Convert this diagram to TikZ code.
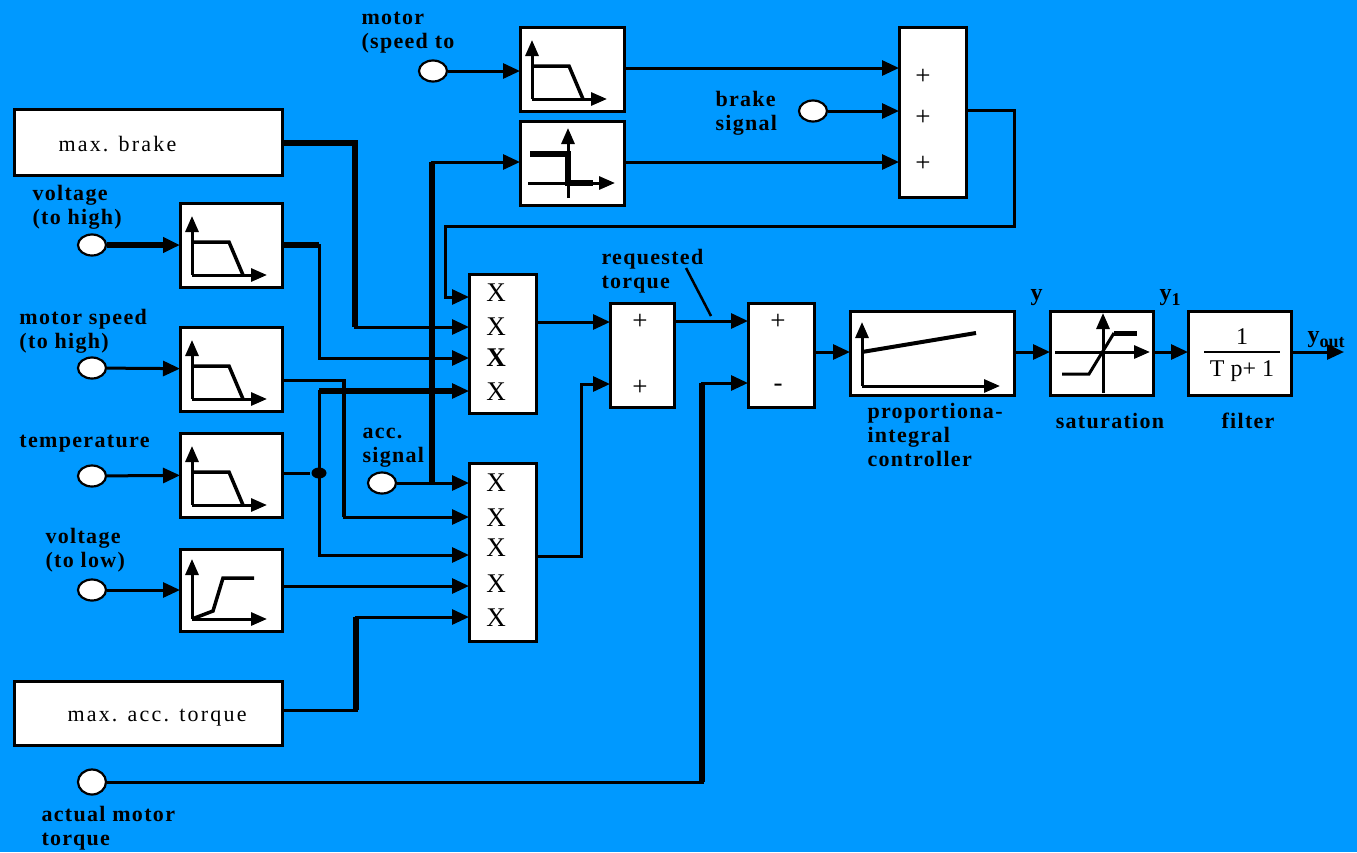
\documentclass[tikz,border=0pt]{standalone}
\usepackage{fontspec}
\setmainfont{Liberation Serif}
\newfontfamily\lblfont[LetterSpace=6]{Liberation Serif}
\newfontfamily\boxfont[LetterSpace=10]{Liberation Serif}
\usetikzlibrary{arrows.meta,shapes.geometric}
\definecolor{bgblue}{RGB}{0,153,255}

% small graphs drawn inside the blocks (coordinates from the block's top left corner)
\newcommand\lowpassicon[1]{%
  \begin{scope}[shift={(#1.north west)}]
    \draw[axes] (12,72) -- (12,13);
    \draw[axes] (12,72) -- (87,72);
    \draw[curve] (12,39) -- (49,39) -- (63,72);
  \end{scope}}
\newcommand\highpassicon[1]{%
  \begin{scope}[shift={(#1.north west)}]
    \draw[axes] (12,70) -- (12,10);
    \draw[axes] (12,70) -- (87,70);
    \draw[curve] (12,70) -- (33,62) -- (43,29) -- (74,29);
  \end{scope}}

\begin{document}
\begin{tikzpicture}[x=1pt, y=-1pt,
    line width=3pt,
    >={Triangle[length=17pt,width=15pt]},
    block/.style={draw, fill=white, line width=3pt, inner sep=0pt, outer sep=0pt},
    port/.style={ellipse, draw, fill=white, line width=2.2pt, minimum width=28pt, minimum height=21pt, inner sep=0pt},
    dot/.style={ellipse, fill=black, minimum width=15pt, minimum height=11pt, inner sep=0pt},
    lbl/.style={anchor=base west, align=left, inner sep=0pt, font=\lblfont\bfseries\fontsize{22}{24}\selectfont},
    boxtext/.style={anchor=base west, inner sep=0pt, font=\boxfont\fontsize{22}{24}\selectfont},
    sign/.style={inner sep=0pt, font=\fontsize{27}{27}\selectfont},
    wire/.style={->, line width=3pt},
    heavy/.style={line width=5.5pt},
    axes/.style={-{Triangle[length=16pt,width=13pt]}, line width=3pt},
    curve/.style={line width=3.5pt}
  ]
  \fill[bgblue] (0,0) rectangle (1357,852);
  \useasboundingbox (0,0) rectangle (1357,852);

  % blocks
  \node[block, minimum width=104pt, minimum height=84pt] (A) at (572,69) {};
  \node[block, minimum width=104pt, minimum height=84pt] (B) at (572,163) {};
  \node[block, minimum width=67pt, minimum height=170pt] (sum3) at (932.5,112) {};
  \node[block, minimum width=268pt, minimum height=66pt] (maxbrake) at (148,142) {};
  \node[block, minimum width=102pt, minimum height=84pt] (V1) at (231,245) {};
  \node[block, minimum width=102pt, minimum height=84pt] (MS) at (231,369) {};
  \node[block, minimum width=102pt, minimum height=84pt] (T) at (231,475) {};
  \node[block, minimum width=102pt, minimum height=82pt] (VL) at (231,590) {};
  \node[block, minimum width=268pt, minimum height=64pt] (maxacc) at (148,713) {};
  \node[block, minimum width=67pt, minimum height=139pt] (M1) at (502.5,343.5) {};
  \node[block, minimum width=67pt, minimum height=178pt] (M2) at (502.5,552) {};
  \node[block, minimum width=64pt, minimum height=104pt] (sum2) at (642,355) {};
  \node[block, minimum width=66pt, minimum height=104pt] (sum1) at (781,355) {};
  \node[block, minimum width=164pt, minimum height=84pt] (PI) at (932,353) {};
  \node[block, minimum width=103pt, minimum height=84pt] (sat) at (1101.5,353) {};
  \node[block, minimum width=103pt, minimum height=84pt] (filt) at (1239.5,353) {};

  % inputs
  \node[port] (motorin) at (433,71) {};
  \node[port] (brakein) at (813,111) {};
  \node[port] (vhigh) at (92,245) {};
  \node[port] (mspeed) at (92,368) {};
  \node[port] (tempin) at (92,476) {};
  \node[port] (vlow) at (92,590) {};
  \node[port] (accin) at (382,483) {};
  \node[port, minimum height=25pt] (torqin) at (92,782) {};
  \node[dot] (tj) at (319,473) {};
  \coordinate (accj) at (432,483);
  \coordinate (yout) at (1344,352);

  % signs in the blocks
  \foreach \yy/\t [count=\i] in {293/X,327/X,358/\textbf{X},392/X}
    \node[sign] (m1x\i) at (496,\yy) {\t};
  \foreach \yy [count=\i] in {483,518,548,584,618}
    \node[sign] (m2x\i) at (496,\yy) {X};
  \foreach \yy [count=\i] in {77,118,164}
    \node[sign] (s3p\i) at (923,\yy) {+};
  \node[sign] (s2p1) at (640,322) {+};
  \node[sign] (s2p2) at (640,388) {+};
  \node[sign] (s1p) at (778,322) {+};
  \node[sign] (s1m) at (778,388) {-};
  \node[inner sep=0pt, font=\fontsize{24}{24}\selectfont] (filtnum) at (1242,337) {1};
  \node[inner sep=0pt, font=\fontsize{24}{24}\selectfont] (filtden) at (1242,371) {T p+ 1};
  \draw[line width=2pt] (1204,352) -- (1280,352);

  % graphs
  \lowpassicon{A}
  \lowpassicon{V1}
  \lowpassicon{MS}
  \lowpassicon{T}
  \highpassicon{VL}
  \begin{scope}[shift={(B.north west)}]
    \draw[axes] (48,77) -- (48,7);
    \draw[axes] (8,62) -- (95,62);
    \draw[line width=6pt] (10,33) -- (48,33) -- (48,62) -- (73,62);
  \end{scope}
  \begin{scope}[shift={(PI.north west)}]
    \draw[axes] (12,75) -- (12,11);
    \draw[axes] (12,75) -- (150,75);
    \draw[line width=4pt] (12,41) -- (126,22);
  \end{scope}
  \begin{scope}[shift={(sat.north west)}]
    \draw[axes] (5,41) -- (100,41);
    \draw[axes] (53,82) -- (53,2);
    \draw (12,63) -- (39,63) -- (64,22);
    \draw[line width=5pt] (64,22) -- (87,22);
  \end{scope}

  % labels (base = last line)
  \node[lbl] (lmotor) at (360,48) {motor\\(speed to};
  \node[lbl] (lbrake) at (714,130) {brake\\signal};
  \node[lbl] (lvhigh) at (31,224) {voltage\\(to high)};
  \node[lbl] (lmspeed) at (18,348) {motor speed\\(to high)};
  \node[lbl] (ltemp) at (18,447) {temperature};
  \node[lbl] (lvlow) at (44,567) {voltage\\(to low)};
  \node[lbl] (lacc) at (361,462) {acc.\\signal};
  \node[lbl] (lreq) at (600,288) {requested\\torque};
  \node[lbl] (ltorq) at (40,845) {actual motor\\torque};
  \node[lbl] (lpi) at (866,466) {proportiona-\\integral\\controller};
  \node[lbl, anchor=base] (lsat) at (1110,428) {saturation};
  \node[lbl, anchor=base] (lfilt) at (1248,428) {filter};
  \node[lbl, font=\bfseries\fontsize{24}{24}\selectfont] (ly) at (1029,300) {y};
  \node[lbl, font=\bfseries\fontsize{24}{24}\selectfont] (ly1) at (1158,300) {y\raisebox{-5pt}{\fontsize{18}{18}\selectfont 1}};
  \node[lbl, font=\bfseries\fontsize{24}{24}\selectfont] (lyout) at (1306,342) {y\raisebox{-5pt}{\fontsize{18}{18}\selectfont out}};
  \node[boxtext] (tbrake) at (57,151) {max. brake};
  \node[boxtext] (tacc) at (66,721) {max. acc. torque};
  \draw[line width=2.5pt] (686,268) -- (711,316);

  % top part
  \draw[wire] (motorin) -- (A.west |- motorin);
  \draw[wire] (A.east |- 0,68) -- (sum3.west |- 0,68);
  \draw[wire] (B.east |- 0,162) -- (sum3.west |- 0,162);
  \draw[wire] (brakein) -- (sum3.west |- brakein);
  \draw[wire] (sum3.east |- 0,110) -| (1014,226) -| (445,297) -- (M1.west |- 0,297);
  \draw[wire] (accj) |- (B.west |- 0,162);
  \draw[heavy] (accj) -- (432,162);

  % left inputs
  \draw[wire, heavy] (vhigh) -- (V1);
  \draw[wire] (mspeed) -- (MS);
  \draw[wire] (tempin) -- (T);
  \draw[wire] (vlow) -- (VL);

  % into the multipliers
  \draw[wire] (maxbrake.east |- 0,143) -| (355,327) -- (M1.west |- 0,327);
  \draw[heavy] (maxbrake.east |- 0,143) -| (355,327);
  \draw[wire] (V1.east |- 0,245) -| (319,358) -- (M1.west |- 0,358);
  \draw[heavy] (V1.east |- 0,245) -- (319,245);
  \draw (T.east |- tj) -- (tj);
  \draw[wire] (tj.center) |- (M1.west |- 0,391);
  \draw[heavy, shorten >=14pt] (319,391) -- (M1.west |- 0,391);
  \draw[wire] (tj.center) |- (M2.west |- 0,555);
  \draw[wire] (accin) -- (M2.west |- accin);
  \draw[wire] (MS.east |- 0,380) -| (344,517) -- (M2.west |- 0,517);
  \draw[line width=4pt] (344,380) -- (344,517);
  \draw[wire] (VL.east |- 0,586) -- (M2.west |- 0,586);
  \draw[wire] (maxacc.east |- 0,710) -| (356,617) -- (M2.west |- 0,617);
  \draw[heavy] (356,710) -- (356,617);

  % sums and controller
  \draw[wire] (M1.east |- 0,322) -- (sum2.west |- 0,322);
  \draw[wire] (M2.east |- 0,556) -| (581,384) -- (sum2.west |- 0,384);
  \draw[wire] (sum2.east |- 0,321) -- (sum1.west |- 0,321);
  \draw[wire] (torqin) -| (702,383) -- (sum1.west |- 0,383);
  \draw[heavy] (702,782) -- (702,383);
  \draw[wire] (sum1.east |- 0,352) -- (PI.west |- 0,352);
  \draw[wire] (PI.east |- 0,352) -- (sat.west |- 0,352);
  \draw[wire] (sat.east |- 0,352) -- (filt.west |- 0,352);
  \draw[wire] (filt.east |- 0,352) -- (yout);
\end{tikzpicture}
\end{document}
